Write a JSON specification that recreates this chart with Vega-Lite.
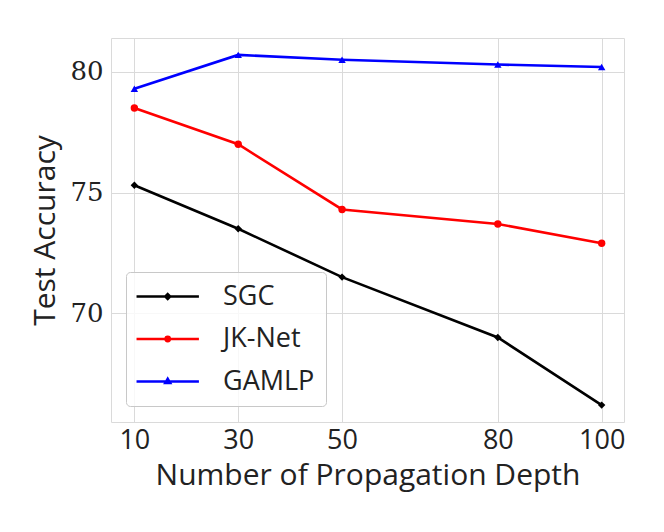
{
  "$schema": "https://vega.github.io/schema/vega-lite/v6.json",
  "autosize": "none",
  "padding": {"left": 111, "top": 38, "right": 40, "bottom": 110},
  "width": 513,
  "height": 384,
  "data": {
    "values": [
      {"model": "SGC", "depth": 10, "acc": 75.3},
      {"model": "SGC", "depth": 30, "acc": 73.5},
      {"model": "SGC", "depth": 50, "acc": 71.5},
      {"model": "SGC", "depth": 80, "acc": 69.0},
      {"model": "SGC", "depth": 100, "acc": 66.2},
      {"model": "JK-Net", "depth": 10, "acc": 78.5},
      {"model": "JK-Net", "depth": 30, "acc": 77.0},
      {"model": "JK-Net", "depth": 50, "acc": 74.3},
      {"model": "JK-Net", "depth": 80, "acc": 73.7},
      {"model": "JK-Net", "depth": 100, "acc": 72.9},
      {"model": "GAMLP", "depth": 10, "acc": 79.3},
      {"model": "GAMLP", "depth": 30, "acc": 80.7},
      {"model": "GAMLP", "depth": 50, "acc": 80.5},
      {"model": "GAMLP", "depth": 80, "acc": 80.3},
      {"model": "GAMLP", "depth": 100, "acc": 80.2}
    ]
  },
  "encoding": {
    "x": {
      "field": "depth",
      "type": "quantitative",
      "scale": {"domain": [5.5, 104.3], "nice": false, "zero": false},
      "axis": {
        "title": "Number of Propagation Depth",
        "values": [10, 30, 50, 80, 100],
        "labelFont": "Open Sans",
        "labelFontSize": 27,
        "labelPadding": 5,
        "titleFont": "Open Sans",
        "titleFontSize": 30,
        "titlePadding": 7
      }
    },
    "y": {
      "field": "acc",
      "type": "quantitative",
      "scale": {"domain": [65.5, 81.4], "nice": false, "zero": false},
      "axis": {
        "title": "Test Accuracy",
        "values": [70, 75, 80],
        "labelFont": "DejaVu Serif",
        "labelFontSize": 26,
        "labelPadding": 8,
        "titleFont": "Open Sans",
        "titleFontSize": 30,
        "titlePadding": 9
      }
    }
  },
  "layer": [
    {
      "mark": {"type": "line", "strokeWidth": 2.6},
      "encoding": {
        "color": {
          "field": "model",
          "type": "nominal",
          "scale": {"domain": ["SGC", "JK-Net", "GAMLP"], "range": ["#000000", "#ff0000", "#0000ff"]},
          "legend": null
        }
      }
    },
    {
      "mark": {"type": "point", "filled": true, "opacity": 1},
      "encoding": {
        "color": {
          "field": "model",
          "type": "nominal",
          "scale": {"domain": ["SGC", "JK-Net", "GAMLP"], "range": ["#000000", "#ff0000", "#0000ff"]},
          "legend": null
        },
        "shape": {
          "field": "model",
          "type": "nominal",
          "scale": {"domain": ["SGC", "JK-Net", "GAMLP"], "range": ["diamond", "circle", "triangle-up"]},
          "legend": null
        },
        "size": {"value": 55}
      }
    },
    {
      "transform": [{"filter": "datum.depth < 0"}],
      "mark": {"type": "point", "filled": false, "strokeWidth": 2.6},
      "encoding": {
        "color": {
          "field": "model",
          "type": "nominal",
          "scale": {"domain": ["SGC", "JK-Net", "GAMLP"], "range": ["#000000", "#ff0000", "#0000ff"]},
          "legend": {
            "title": null,
            "orient": "none",
            "legendX": 15,
            "legendY": 234,
            "padding": 11,
            "fillColor": "rgba(255,255,255,0.8)",
            "strokeColor": "#c8c8c8",
            "cornerRadius": 4,
            "labelFont": "Open Sans",
            "labelFontSize": 27,
            "labelColor": "#222222",
            "labelOffset": 59,
            "rowPadding": 14.5,
            "symbolSize": 144,
            "symbolStrokeWidth": 2.6,
            "symbolOpacity": 1
          }
        },
        "shape": {
          "field": "model",
          "type": "nominal",
          "scale": {
            "domain": ["SGC", "JK-Net", "GAMLP"],
            "range": [
              "M-2.33,0H8.07M2.87,-0.4L3.27,0L2.87,0.4L2.47,0Z",
              "M2.52,0A0.35,0.35 0 1,0 3.22,0A0.35,0.35 0 1,0 2.52,0Z M-2.33,0H8.07",
              "M-2.33,0H8.07M2.87,-0.45L3.27,0.25L2.47,0.25Z"
            ]
          },
          "legend": {
            "title": null,
            "orient": "none",
            "legendX": 15,
            "legendY": 234
          }
        }
      }
    }
  ],
  "resolve": {"scale": {"color": "independent", "shape": "independent"}},
  "config": {
    "view": {"stroke": "#dadada", "strokeWidth": 1},
    "axis": {
      "domain": false,
      "ticks": false,
      "grid": true,
      "gridColor": "#dadada",
      "gridWidth": 1,
      "labelColor": "#222222",
      "titleColor": "#222222",
      "titleFontWeight": "normal"
    }
  }
}
